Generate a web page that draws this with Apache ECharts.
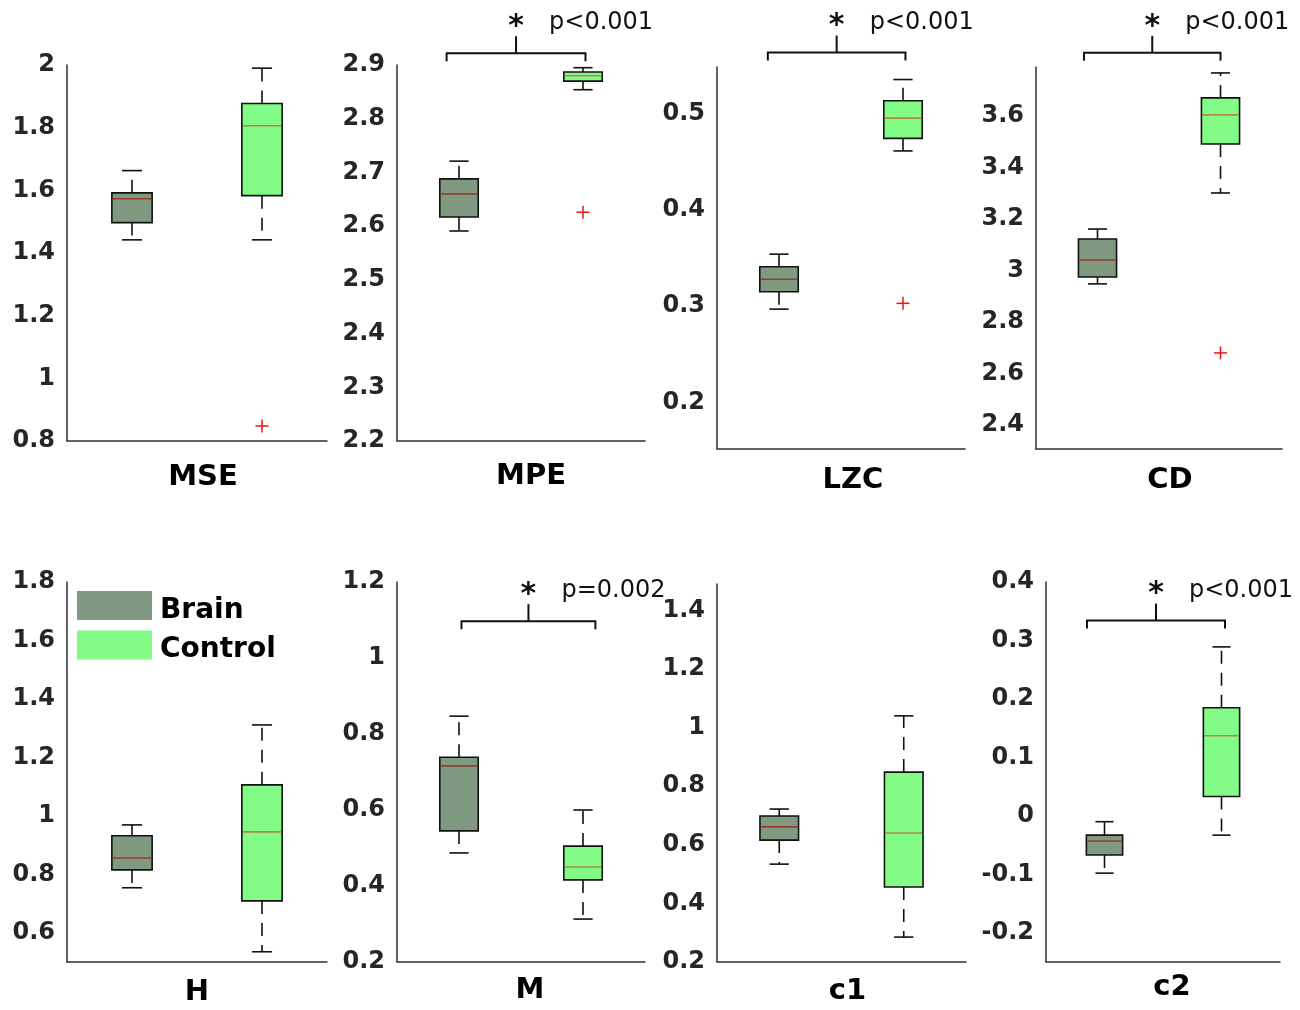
<!DOCTYPE html>
<html>
<head>
<meta charset="utf-8">
<script src="https://cdn.jsdelivr.net/npm/echarts@6/dist/echarts.min.js"></script>
<style>
  html, body { margin: 0; padding: 0; background: #fff; }
  #chart { width: 1300px; height: 1010px; }
</style>
</head>
<body>
<div id="chart"></div>
<script>
const groups = ["Brain", "Control"];
const panels = ["MSE", "MPE", "LZC", "CD", "H", "M", "c1", "c2"];

// [lower whisker, Q1, median, Q3, upper whisker]
const brainStats = [
  [1.442, 1.497, 1.573, 1.592, 1.663],
  [2.591, 2.617, 2.660, 2.688, 2.721],
  [0.297, 0.315, 0.328, 0.341, 0.354],
  [2.948, 2.975, 3.041, 3.122, 3.161],
  [0.754, 0.815, 0.856, 0.932, 0.969],
  [0.487, 0.545, 0.716, 0.739, 0.847],
  [0.534, 0.616, 0.661, 0.698, 0.722],
  [-0.098, -0.067, -0.043, -0.033, -0.010]
];
const controlStats = [
  [1.442, 1.583, 1.806, 1.877, 1.990],
  [2.854, 2.870, 2.880, 2.887, 2.895],
  [0.461, 0.474, 0.495, 0.513, 0.535],
  [3.301, 3.491, 3.604, 3.670, 3.767],
  [0.535, 0.709, 0.945, 1.106, 1.311],
  [0.313, 0.416, 0.450, 0.505, 0.600],
  [0.285, 0.456, 0.640, 0.848, 1.040],
  [-0.033, 0.033, 0.137, 0.185, 0.289]
];
const controlOutliers = [0.848, 2.626, 0.303, 2.680, null, null, null, null];

const yMin = [0.8, 2.2, 0.152, 2.307, 0.5, 0.2, 0.2, -0.25];
const yMax = [2.0, 2.9, 0.548, 3.79, 1.8, 1.2, 1.49, 0.4];
const yStep = [0.2, 0.1, 0.1, 0.2, 0.2, 0.2, 0.2, 0.1];

// significance brackets: [x from, x to, y level], null where none
const brackets = [null, [0.90, 2.02, 2.922], [0.91, 2.02, 0.563], [0.89, 2.00, 3.845],
                  null, [1.02, 2.10, 1.097], null, [0.85, 2.03, 0.334]];
const pLabels = ["", "p<0.001", "p<0.001", "p<0.001", "", "p=0.002", "", "p<0.001"];

// layout
const grids = [
  { left: 67, top: 65, width: 260, height: 376 },
  { left: 397, top: 65, width: 248, height: 376 },
  { left: 717, top: 67, width: 248, height: 382 },
  { left: 1036, top: 67, width: 246, height: 382 },
  { left: 67, top: 582, width: 260, height: 380 },
  { left: 397, top: 582, width: 248, height: 380 },
  { left: 717, top: 584, width: 249, height: 378 },
  { left: 1046, top: 582, width: 234, height: 380 }
];
const nameGaps = [22, 21, 17, 17, 16, 14, 15, 11];
const nameShift = [12, 20, 24, 22, 0, 18, 12, 18];

const fills = ["#7f9a80", "#82fc86"];
const medians = ["#963c2a", "#b08a3c"];
const font = "DejaVu Sans";
const boxWidth = 0.31;

function onStep(v, step) {
  const r = v / step;
  return Math.abs(r - Math.round(r)) < 1e-6;
}

function renderBox(params, api) {
  const x = api.value(0);
  const lo = api.coord([x, api.value(1)]);
  const q1 = api.coord([x, api.value(2)]);
  const md = api.coord([x, api.value(3)]);
  const q3 = api.coord([x, api.value(4)]);
  const hi = api.coord([x, api.value(5)]);
  const w = api.size([boxWidth, 0])[0];
  const cx = lo[0];
  const g = params.dataIndex;
  const solid = { stroke: "#111", lineWidth: 1.6 };
  const dashed = { stroke: "#111", lineWidth: 1.6, lineDash: [13, 9] };
  return {
    type: "group",
    children: [
      { type: "line", shape: { x1: cx, y1: q3[1], x2: cx, y2: hi[1] }, style: dashed },
      { type: "line", shape: { x1: cx, y1: q1[1], x2: cx, y2: lo[1] }, style: dashed },
      { type: "line", shape: { x1: cx - w / 4, y1: hi[1], x2: cx + w / 4, y2: hi[1] }, style: solid },
      { type: "line", shape: { x1: cx - w / 4, y1: lo[1], x2: cx + w / 4, y2: lo[1] }, style: solid },
      { type: "rect", shape: { x: cx - w / 2, y: q3[1], width: w, height: q1[1] - q3[1] },
        style: { fill: fills[g], stroke: "#111", lineWidth: 1.6 } },
      { type: "line", shape: { x1: cx - w / 2 + 1, y1: md[1], x2: cx + w / 2 - 1, y2: md[1] },
        style: { stroke: medians[g], lineWidth: 1.6 } }
    ]
  };
}

function renderOutlier(params, api) {
  const p = api.coord([api.value(0), api.value(1)]);
  const s = 6.5;
  const st = { stroke: "#e8141a", lineWidth: 1.5 };
  return {
    type: "group",
    children: [
      { type: "line", shape: { x1: p[0] - s, y1: p[1], x2: p[0] + s, y2: p[1] }, style: st },
      { type: "line", shape: { x1: p[0], y1: p[1] - s, x2: p[0], y2: p[1] + s }, style: st }
    ]
  };
}

function makeBracketRenderer(label) {
  return function (params, api) {
    const a = api.coord([api.value(0), api.value(2)]);
    const b = api.coord([api.value(1), api.value(2)]);
    const mid = (a[0] + b[0]) / 2;
    const y = a[1];
    const st = { stroke: "#111", lineWidth: 2, fill: null };
    return {
      type: "group",
      children: [
        { type: "polyline", shape: { points: [[a[0], y + 8], [a[0], y], [b[0], y], [b[0], y + 8]] }, style: st },
        { type: "line", shape: { x1: mid, y1: y, x2: mid, y2: y - 17 }, style: st },
        { type: "text", x: mid, y: y - 11,
          style: { text: "*", fontSize: 30, fontWeight: "bold", fontFamily: font, fill: "#111",
                   align: "center", verticalAlign: "bottom" } },
        { type: "text", x: mid + 33, y: y - 30,
          style: { text: label, fontSize: 24, fontFamily: font, fill: "#111",
                   align: "left", verticalAlign: "middle" } }
      ]
    };
  };
}

const chart = echarts.init(document.getElementById("chart"), null, { renderer: "canvas" });

const xAxes = panels.map((name, i) => ({
  gridIndex: i,
  type: "value",
  min: 0.5,
  max: 2.5,
  name: name,
  nameLocation: "middle",
  nameGap: nameGaps[i],
  nameTextStyle: {
    fontSize: 29, fontWeight: "bold", color: "#000", fontFamily: font,
    verticalAlign: "top", padding: [0, 0, 0, nameShift[i]]
  },
  axisLine: { show: true, onZero: false, lineStyle: { color: "#333", width: 1.5 } },
  axisTick: { show: false },
  axisLabel: { show: false },
  splitLine: { show: false }
}));

const yAxes = panels.map((name, i) => ({
  gridIndex: i,
  type: "value",
  min: yMin[i],
  max: yMax[i],
  minInterval: yStep[i],
  maxInterval: yStep[i],
  axisLine: { show: true, lineStyle: { color: "#333", width: 1.5 } },
  axisTick: { show: false },
  splitLine: { show: false },
  axisLabel: {
    fontSize: 24, fontWeight: "bold", color: "#262626", fontFamily: font, margin: 12,
    formatter: (v) => (onStep(v, yStep[i]) ? String(+v.toFixed(3)) : "")
  }
}));

const series = [];
panels.forEach((name, i) => {
  series.push({
    type: "custom",
    name: name,
    xAxisIndex: i,
    yAxisIndex: i,
    renderItem: renderBox,
    encode: { x: 0, y: [1, 2, 3, 4, 5] },
    data: [[1].concat(brainStats[i]), [2].concat(controlStats[i])],
    silent: true
  });
  if (controlOutliers[i] != null) {
    series.push({
      type: "custom",
      xAxisIndex: i,
      yAxisIndex: i,
      renderItem: renderOutlier,
      encode: { x: 0, y: 1 },
      data: [[2, controlOutliers[i]]],
      silent: true
    });
  }
  if (brackets[i]) {
    series.push({
      type: "custom",
      xAxisIndex: i,
      yAxisIndex: i,
      clip: false,
      renderItem: makeBracketRenderer(pLabels[i]),
      encode: { x: [0, 1], y: 2 },
      data: [brackets[i]],
      silent: true
    });
  }
});

// legend entries
groups.forEach((g, k) => {
  series.push({
    type: "scatter",
    name: g,
    xAxisIndex: 4,
    yAxisIndex: 4,
    data: [],
    itemStyle: { color: fills[k], opacity: 1 }
  });
});

chart.setOption({
  animation: false,
  backgroundColor: "#fff",
  grid: grids,
  xAxis: xAxes,
  yAxis: yAxes,
  legend: {
    data: groups,
    left: 77,
    top: 591,
    padding: 0,
    orient: "vertical",
    icon: "rect",
    itemWidth: 75,
    itemHeight: 29,
    itemGap: 6,
    selectedMode: false,
    itemStyle: { opacity: 1 },
    formatter: "{t|{name}}",
    textStyle: {
      rich: {
        t: { fontSize: 28, fontWeight: "bold", color: "#000", fontFamily: font, padding: [10, 0, 0, 3] }
      }
    }
  },
  series: series
});
</script>
</body>
</html>
